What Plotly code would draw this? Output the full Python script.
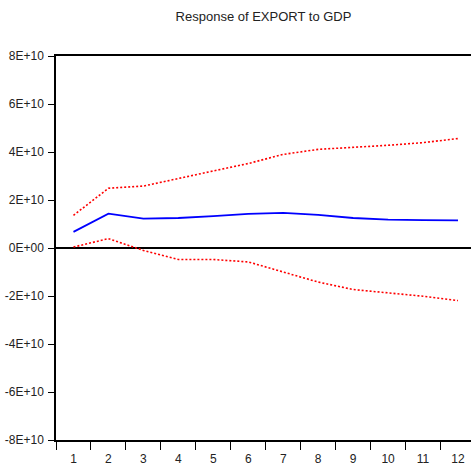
import plotly.graph_objects as go

# Impulse response horizon (periods)
periods = list(range(1, 13))

# Response of EXPORT to a GDP shock, with +/- 2 S.E. bands
response = [0.67e10, 1.43e10, 1.22e10, 1.25e10, 1.33e10, 1.42e10,
            1.46e10, 1.38e10, 1.25e10, 1.18e10, 1.16e10, 1.15e10]
upper_band = [1.36e10, 2.49e10, 2.58e10, 2.88e10, 3.21e10, 3.52e10,
              3.90e10, 4.11e10, 4.18e10, 4.28e10, 4.39e10, 4.56e10]
lower_band = [0.04e10, 0.39e10, -0.10e10, -0.48e10, -0.48e10, -0.58e10,
              -1.00e10, -1.42e10, -1.73e10, -1.87e10, -2.01e10, -2.19e10]

y_tick_vals = [8e10, 6e10, 4e10, 2e10, 0, -2e10, -4e10, -6e10, -8e10]
y_tick_text = ["8E+10", "6E+10", "4E+10", "2E+10", "0E+00",
               "-2E+10", "-4E+10", "-6E+10", "-8E+10"]

font_family = "Liberation Sans, Arial, sans-serif"

fig = go.Figure()
fig.add_trace(go.Scatter(x=periods, y=upper_band, mode="lines",
                         line=dict(color="#ff0000", width=1.6, dash="2px,2px")))
fig.add_trace(go.Scatter(x=periods, y=lower_band, mode="lines",
                         line=dict(color="#ff0000", width=1.6, dash="2px,2px")))
fig.add_trace(go.Scatter(x=periods, y=response, mode="lines",
                         line=dict(color="#0000ff", width=1.8)))

fig.update_layout(
    width=471, height=468,
    margin=dict(l=56, r=0, t=56, b=28),
    paper_bgcolor="white", plot_bgcolor="white",
    showlegend=False,
    font=dict(family=font_family, size=12, color="#222"),
    title=dict(text="Response of EXPORT to GDP", x=0.5, xref="paper",
               y=0.965, yanchor="middle",
               font=dict(family=font_family, size=13, color="#222")),
)

fig.update_xaxes(
    range=[0.5, 12.371],
    tickvals=periods, ticktext=[str(p) for p in periods],
    ticks="", showgrid=False, zeroline=False,
    showline=True, linecolor="black", linewidth=1.5, mirror=True,
    minor=dict(tick0=0.5, dtick=1, ticks="outside", ticklen=8,
               tickcolor="black", tickwidth=1.2, showgrid=False),
    ticklabelstandoff=7,
)
fig.update_yaxes(
    range=[-8e10, 8e10],
    tickvals=y_tick_vals, ticktext=y_tick_text,
    ticks="outside", ticklen=6, tickcolor="black", tickwidth=1.2,
    showgrid=False,
    zeroline=True, zerolinecolor="black", zerolinewidth=1.5,
    showline=True, linecolor="black", linewidth=1.5,
    ticklabelstandoff=2,
)

fig.write_html("out.html")
